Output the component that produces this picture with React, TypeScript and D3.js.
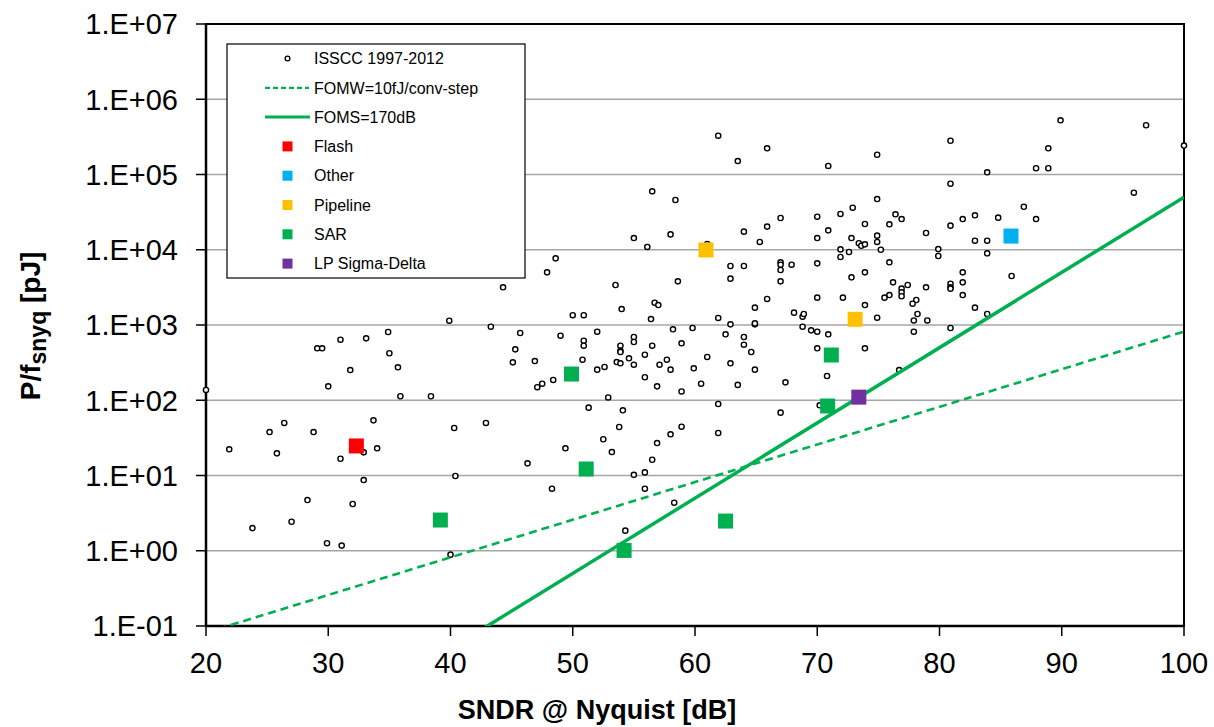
import React from "react";
import * as d3 from "d3";

// ISSCC 1997-2012 survey: [SNDR @ Nyquist (dB), P/fs,nyq (pJ)]
const isscc: [number, number][] = [
  [20.0, 137], [21.9, 22.3], [23.8, 2.0], [25.2, 37.8], [25.8, 19.7], [26.4, 49.9], [27.0, 2.43],
  [28.3, 4.72], [28.8, 37.8], [29.1, 490], [29.5, 490], [29.9, 1.26], [30.0, 153], [31.0, 638],
  [31.0, 16.7], [31.1, 1.17], [31.8, 252], [32.0, 4.18], [32.9, 20.3], [32.9, 8.7], [33.1, 665],
  [33.7, 54.1], [34.0, 23.0], [34.9, 807], [35.0, 421], [35.7, 274], [35.9, 113], [38.4, 113],
  [39.9, 1140], [40.3, 42.8], [40.4, 9.85], [40.0, 0.887], [42.9, 49.9], [43.3, 950], [44.3, 3170],
  [45.1, 319], [45.3, 475], [45.7, 783], [46.3, 14.5], [46.9, 332], [47.1, 149],
  [47.5, 166], [61.9, 3.28e5], [65.9, 2.23e5], [63.5, 1.51e5], [70.9, 1.3e5], [56.5, 5.97e4],
  [58.4, 4.58e4], [72.9, 3.62e4], [70.0, 2.75e4], [71.9, 2.99e4], [67.0, 2.64e4], [73.9, 2.2e4],
  [65.9, 2.03e4], [64.0, 1.74e4], [70.9, 1.81e4], [70.0, 1.43e4], [72.8, 1.43e4], [55.0, 1.43e4],
  [58.0, 1.6e4], [65.3, 1.27e4], [56.1, 1.09e4], [73.4, 1.22e4], [73.6, 1.13e4], [73.9, 1.18e4],
  [71.9, 1.01e4], [72.6, 9330], [71.9, 8010], [61.0, 1.19e4], [48.6, 7690], [47.9, 5010],
  [62.9, 6080], [64.0, 6080], [62.9, 4130], [58.6, 3800], [67.0, 6810], [67.0, 6330], [67.0, 5380],
  [67.0, 3800], [67.9, 6330], [70.0, 6600], [72.8, 4300], [73.9, 5010], [53.5, 3400], [70.0, 2310],
  [72.1, 2310], [73.9, 1840], [65.9, 2220], [64.9, 1700], [56.7, 1980], [57.0, 1840], [54.0, 1630],
  [68.1, 1460], [68.8, 1290], [68.9, 1400], [50.0, 1350], [50.9, 1350], [61.9, 1240], [56.4, 1200],
  [62.9, 1020], [64.9, 1020], [64.9, 1050], [68.8, 950], [58.2, 877], [59.8, 912], [52.0, 815],
  [69.5, 849], [70.0, 815], [70.9, 752], [49.0, 721], [62.5, 752], [50.9, 619], [50.9, 531],
  [55.0, 693], [55.0, 594], [53.9, 531], [53.9, 455], [53.9, 438], [64.0, 693], [64.0, 547],
  [58.9, 571], [56.5, 531], [64.6, 438], [73.9, 490], [70.0, 490], [55.9, 403], [61.0, 376],
  [54.6, 361], [50.8, 346], [57.7, 346], [53.6, 322], [53.9, 310], [55.0, 297], [57.1, 297],
  [62.9, 310], [52.0, 255], [52.6, 277], [58.0, 255], [59.9, 266], [64.9, 255], [70.8, 210],
  [55.9, 202], [48.4, 186], [56.9, 153], [60.5, 166], [63.5, 160], [67.4, 173], [58.9, 131],
  [52.9, 109],
  [51.3, 79.7], [54.1, 73.5], [61.9, 89.1], [67.0, 68.4], [70.2, 85.7], [53.8, 44.1], [58.9, 44.5],
  [58.0, 35.3], [61.9, 36.7], [52.5, 30.3], [56.9, 27.0], [49.4, 23.0], [53.2, 20.5], [56.5, 16.2],
  [55.9, 11.0], [55.0, 10.2], [48.3, 6.68], [55.9, 6.68], [58.3, 4.35], [54.3, 1.85],
  [89.9, 5.25e5], [96.9, 4.51e5], [100, 2.42e5], [80.9, 2.81e5], [74.9, 1.83e5], [88.9, 2.23e5],
  [87.9, 1.21e5], [88.9, 1.21e5], [83.9, 1.07e5], [80.9, 7.55e4], [95.9, 5.73e4], [74.9, 4.72e4],
  [86.9, 3.73e4], [76.4, 2.96e4], [76.9, 2.56e4], [82.9, 2.87e4], [81.9, 2.56e4], [84.8, 2.67e4],
  [87.9, 2.56e4], [75.9, 2.18e4], [80.9, 2.09e4], [78.9, 1.67e4], [74.9, 1.54e4], [74.9, 1.27e4],
  [75.2, 1.0e4], [79.9, 1.02e4], [79.9, 8260], [82.9, 1.32e4], [83.9, 1.32e4], [83.9, 8970],
  [75.9, 6810], [81.9, 5010], [85.9, 4480], [76.2, 3690], [77.4, 3400], [76.9, 3040], [76.9, 2720],
  [76.9, 2410], [75.9, 2500], [75.5, 2310], [78.9, 3170], [80.9, 3540], [80.9, 3170], [80.9, 3040],
  [81.9, 3690], [81.9, 2500], [78.1, 2150], [77.8, 1920], [82.9, 1700], [78.2, 1400], [77.9, 1150],
  [79.0, 1150], [74.9, 1250], [83.9, 1400], [77.9, 815], [80.9, 912], [76.7, 252],
];

// Highlighted designs by architecture
const flash: [number, number][] = [[32.3, 24.7]];
const other: [number, number][] = [[85.85, 15200]];
const pipeline: [number, number][] = [[60.9, 9930], [73.1, 1190]];
const sar: [number, number][] = [
  [49.9, 223], [71.15, 399], [51.1, 12.2], [54.2, 1.01], [62.5, 2.48], [70.85, 83.9], [39.17, 2.56],
];
const lpSigmaDelta: [number, number][] = [[73.4, 110]];

// Figure-of-merit reference lines
const FOMW_PJ = 0.01; // 10 fJ/conv-step
const FOMS_DB = 170;
const fomLineSndr = [20, 100];

const xTicks = [20, 30, 40, 50, 60, 70, 80, 90, 100];
const yTicks = [1e-1, 1e0, 1e1, 1e2, 1e3, 1e4, 1e5, 1e6, 1e7];
const yTickLabels = ["1.E-01", "1.E+00", "1.E+01", "1.E+02", "1.E+03", "1.E+04", "1.E+05", "1.E+06", "1.E+07"];

const GREEN = "#00B050";
const categories = [
  { name: "Flash", color: "#FF0000", data: flash },
  { name: "Other", color: "#00B0F0", data: other },
  { name: "Pipeline", color: "#FFC000", data: pipeline },
  { name: "SAR", color: GREEN, data: sar },
  { name: "LP Sigma-Delta", color: "#7030A0", data: lpSigmaDelta },
];

const FONT = "'Liberation Sans', Arial, sans-serif";

export default function App() {
  const left = 206, right = 1184, top = 24, bottom = 626;
  const x = d3.scaleLinear().domain([20, 100]).range([left, right]);
  const y = d3.scaleLog().domain([0.1, 1e7]).range([bottom, top]);

  const line = d3
    .line<[number, number]>()
    .x((d) => x(d[0]))
    .y((d) => y(d[1]));

  const fomw: [number, number][] = fomLineSndr.map((s) => [s, FOMW_PJ * Math.pow(2, (s - 1.76) / 6.02)]);
  const foms: [number, number][] = fomLineSndr.map((s) => [s, 0.5 * Math.pow(10, (s - FOMS_DB) / 10) * 1e12]);

  const sq = 15;
  const legX = 227, legY = 44, legW = 298, legH = 234;
  const rowY = (i: number) => 58.5 + i * 29.3;
  const symX = 287.5;
  const textX = 314;

  return (
    <svg
      width={1214}
      height={727}
      style={{ position: "absolute", left: 0, top: 0, background: "#fff" }}
      fontFamily={FONT}
    >
      <defs>
        <clipPath id="plot-area">
          <rect x={left} y={top} width={right - left} height={bottom - top} />
        </clipPath>
      </defs>

      {/* horizontal gridlines */}
      {yTicks.slice(1, -1).map((t) => (
        <line key={t} x1={left} x2={right} y1={y(t)} y2={y(t)} stroke="#a6a6a6" strokeWidth={1.5} />
      ))}

      {/* frame */}
      <rect x={left} y={top} width={right - left} height={bottom - top} fill="none" stroke="#000" strokeWidth={2} />
      <line x1={left} x2={left} y1={top} y2={bottom} stroke="#000" strokeWidth={2.5} />
      <line x1={left} x2={right} y1={bottom} y2={bottom} stroke="#000" strokeWidth={2.5} />

      {/* y ticks */}
      {yTicks.map((t, i) => (
        <g key={t}>
          <line x1={left - 10} x2={left} y1={y(t)} y2={y(t)} stroke="#000" strokeWidth={1.5} />
          <text x={178} y={y(t)} dy="0.36em" textAnchor="end" fontSize={29} fill="#000">
            {yTickLabels[i]}
          </text>
        </g>
      ))}

      {/* x ticks */}
      {xTicks.map((t) => (
        <g key={t}>
          <line x1={x(t)} x2={x(t)} y1={bottom} y2={bottom + 10} stroke="#000" strokeWidth={1.5} />
          <text x={x(t)} y={673} textAnchor="middle" fontSize={29} fill="#000">
            {t}
          </text>
        </g>
      ))}

      {/* axis titles */}
      <text x={597} y={719} textAnchor="middle" fontSize={27} fontWeight="bold" fill="#000">
        SNDR @ Nyquist  [dB]
      </text>
      <text
        transform="translate(40,326) rotate(-90)"
        textAnchor="middle"
        fontSize={28}
        fontWeight="bold"
        fill="#000"
      >
        P/f
        <tspan fontSize={23} dy={6}>snyq</tspan>
        <tspan dy={-6}> [pJ]</tspan>
      </text>

      {/* survey points */}
      {isscc.map((d, i) => (
        <circle key={i} cx={x(d[0])} cy={y(d[1])} r={2.6} fill="#fff" stroke="#000" strokeWidth={1.4} />
      ))}

      {/* FOM lines */}
      <g clipPath="url(#plot-area)">
        <path d={line(fomw) || ""} fill="none" stroke={GREEN} strokeWidth={2.6} strokeDasharray="8 5" />
        <path d={line(foms) || ""} fill="none" stroke={GREEN} strokeWidth={3.5} />
      </g>

      {/* architecture highlights */}
      {categories.map((c) =>
        c.data.map((d, i) => (
          <rect
            key={c.name + i}
            x={x(d[0]) - sq / 2}
            y={y(d[1]) - sq / 2}
            width={sq}
            height={sq}
            fill={c.color}
          />
        ))
      )}

      {/* legend */}
      <g>
        <rect x={legX} y={legY} width={legW} height={legH} fill="#fff" stroke="#000" strokeWidth={1.2} />
        <circle cx={symX} cy={rowY(0)} r={2.4} fill="#fff" stroke="#000" strokeWidth={1.3} />
        <text x={textX} y={rowY(0)} dy="0.36em" fontSize={16} fill="#000">ISSCC 1997-2012</text>
        <line x1={265} x2={309} y1={rowY(1)} y2={rowY(1)} stroke={GREEN} strokeWidth={2.2} strokeDasharray="5 3" />
        <text x={textX} y={rowY(1)} dy="0.36em" fontSize={16} fill="#000">FOMW=10fJ/conv-step</text>
        <line x1={265} x2={310} y1={rowY(2)} y2={rowY(2)} stroke={GREEN} strokeWidth={3} />
        <text x={textX} y={rowY(2)} dy="0.36em" fontSize={16} fill="#000">FOMS=170dB</text>
        {categories.map((c, i) => (
          <g key={c.name}>
            <rect x={symX - 5} y={rowY(3 + i) - 5} width={10} height={10} fill={c.color} />
            <text x={textX} y={rowY(3 + i)} dy="0.36em" fontSize={16} fill="#000">{c.name}</text>
          </g>
        ))}
      </g>
    </svg>
  );
}
